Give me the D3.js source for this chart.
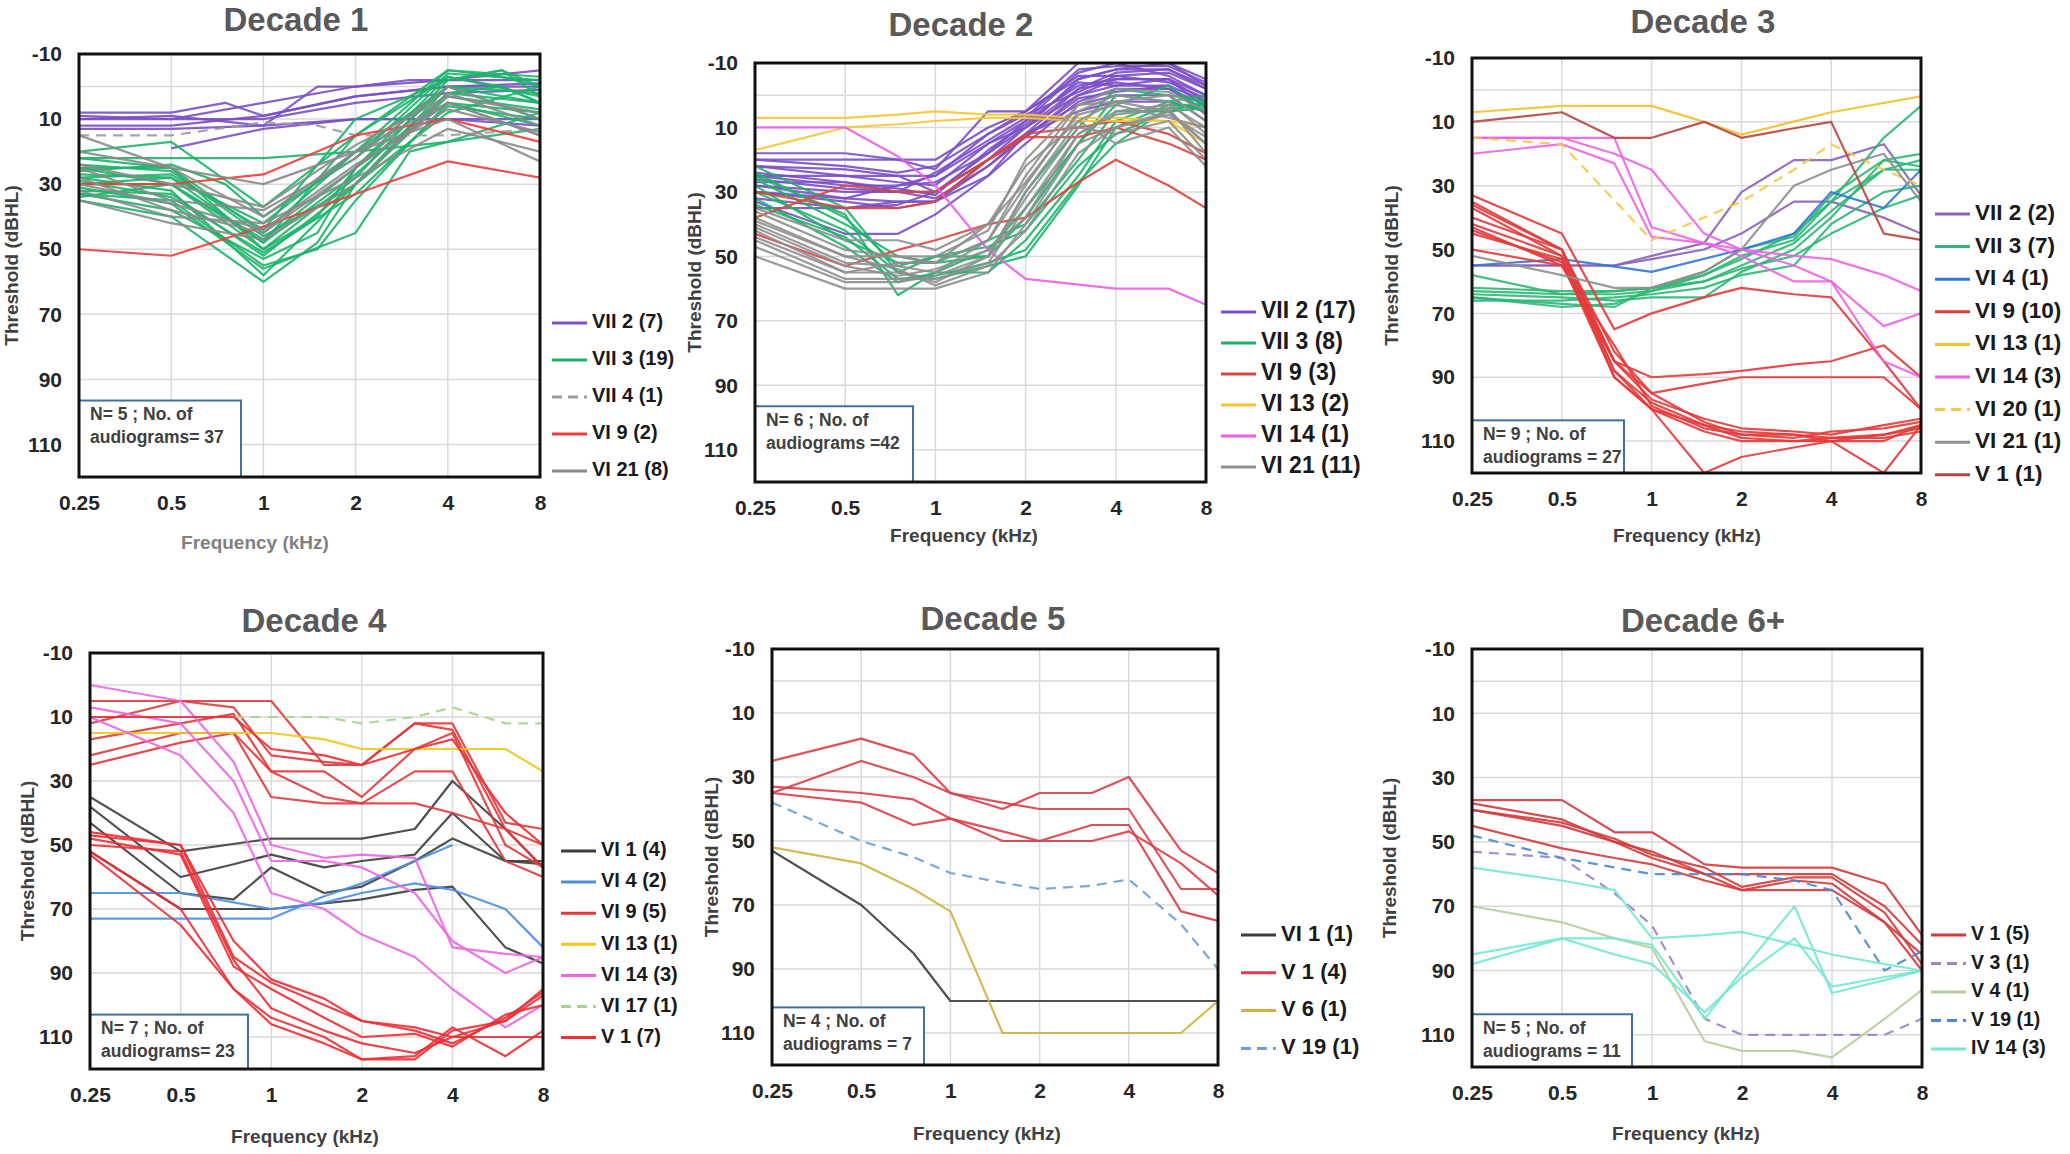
<!DOCTYPE html>
<html><head><meta charset="utf-8">
<script src="https://cdn.jsdelivr.net/npm/d3@7"></script>
<style>
html,body{margin:0;padding:0;background:#fff;}
svg{display:block;}
</style></head><body>
<svg id="chart" width="2070" height="1154"></svg>
<script>
const _ = null;
// frequencies (kHz) at which every audiogram value array is sampled
const FREQS = [0.25, 0.5, 0.75, 1, 1.5, 2, 3, 4, 6, 8];
const X_TICKS = [0.25, 0.5, 1, 2, 4, 8];
const X_TICK_LABELS = ["0.25", "0.5", "1", "2", "4", "8"];
const Y_TICKS = [-10, 10, 30, 50, 70, 90, 110];
const TITLES = ["Decade 1", "Decade 2", "Decade 3", "Decade 4", "Decade 5", "Decade 6+"];
const NOTES = [
  ["N= 5 ; No. of", "audiograms= 37"],
  ["N= 6 ; No. of", "audiograms =42"],
  ["N= 9 ; No. of", "audiograms = 27"],
  ["N= 7 ; No. of", "audiograms= 23"],
  ["N= 4 ; No. of", "audiograms = 7"],
  ["N= 5 ; No. of", "audiograms = 11"]
];

// ---------- Decade 1 ----------
const D1_LABELS = ["VII 2 (7)", "VII 3 (19)", "VII 4 (1)", "VI 9 (2)", "VI 21 (8)"];
const D1_VII2 = [
  [8, 8, 5, 9, _, 3, _, 0, _, -1],
  [10, 10, _, 5, _, 0, _, -2, _, -2],
  [10, 9, _, 12, 0, 0, -2, -2, _, -5],
  [12, 12, _, 9, _, 3, _, 0, _, 0],
  [13, 13, _, 12, _, 10, _, 10, _, 10],
  [_, 19, _, 13, _, 10, _, 10, _, 12],
  [9, 10, _, 10, _, 5, _, 2, _, 1]
];
const D1_VII3 = [
  [22, 22, _, 22, _, 20, _, 17, _, 8],
  [20, 17, _, 37, _, 15, _, -5, -3, 0],
  [25, 25, _, 45, _, 20, _, -5, _, -3],
  [27, 28, _, 48, _, 15, _, -3, 0, 5],
  [30, 30, _, 50, 40, 25, _, 0, _, 2],
  [32, 33, _, 52, _, 30, _, 2, 0, 5],
  [33, 35, _, 55, 50, 35, _, 5, _, 8],
  [35, 40, _, 60, 48, 30, _, 0, _, 10],
  [28, 27, _, 44, _, 10, _, -2, -5, 0],
  [25, 30, _, 47, _, 25, _, -3, _, 3],
  [30, 28, _, 42, _, 20, _, 0, _, 5],
  [24, 26, _, 46, _, 30, _, 3, _, 7],
  [33, 38, _, 53, 45, 25, _, 5, _, 12],
  [28, 32, _, 58, _, 30, _, 8, _, 0],
  [26, 24, 30, 40, _, 22, _, -4, _, -2],
  [31, 36, _, 56, _, 45, 20, 17, _, 13],
  [22, 25, _, 50, _, 28, _, -2, -5, 3],
  [29, 34, _, 51, _, 33, _, 6, _, 10],
  [34, 30, _, 48, _, 27, _, 2, _, 5]
];
const D1_VII4 = [
  [15, 15, _, 11, 12, 15, _, 15, _, 13]
];
const D1_VI9 = [
  [30, 30, _, 27, _, 15, 12, 10, _, 17],
  [50, 52, _, 43, _, 33, _, 23, _, 28]
];
const D1_VI21 = [
  [15, 25, _, 40, _, 20, _, 5, _, 15],
  [20, 25, _, 30, _, 20, _, 10, _, 23],
  [25, 35, _, 38, _, 22, _, 0, _, 10],
  [28, 38, _, 45, _, 25, _, 5, _, 15],
  [32, 40, _, 42, _, 28, _, 13, _, 20],
  [24, 30, _, 37, _, 18, _, 3, _, 8],
  [30, 36, _, 44, _, 24, _, 7, _, 14],
  [35, 42, _, 47, _, 30, _, 2, _, 12]
];

// ---------- Decade 2 ----------
const D2_LABELS = ["VII 2 (17)", "VII 3 (8)", "VI 9 (3)", "VI 13 (2)", "VI 14 (1)", "VI 21 (11)"];
const D2_VII2 = [
  [18, 18, 20, 20, 10, 5, -10, -10, -10, -5],
  [20, 20, 20, 23, 5, 5, -5, -8, -8, -3],
  [22, 23, 25, 25, 15, 8, -3, -5, -5, 0],
  [25, 25, 27, 28, 15, 10, 0, -3, -3, 2],
  [27, 27, 30, 30, 20, 12, -2, -7, -8, -2],
  [28, 30, 30, 32, 22, 13, 0, -5, -5, 4],
  [30, 32, 33, 33, 25, 15, 2, -2, -2, 5],
  [32, 35, 34, 30, 20, 10, -5, -8, -10, -3],
  [25, 28, 28, 27, 18, 8, -7, -10, -6, 0],
  [22, 25, 25, 30, 18, 10, -2, -4, -2, 3],
  [30, 33, 35, 33, 22, 12, 3, 0, 0, 8],
  [33, 43, 43, 37, 25, 12, 5, 2, 2, 5],
  [28, 32, 28, 25, 12, 5, -6, -6, -7, -2],
  [24, 27, 29, 31, 17, 9, -4, -3, -5, 2],
  [26, 29, 30, 24, 14, 7, -8, -9, -9, -4],
  [20, 22, 24, 22, 12, 6, -1, -6, -4, 1],
  [35, 35, 33, 33, 20, 13, 1, -1, -3, 6]
];
const D2_VII3 = [
  [22, 35, 55, 50, 50, 30, 10, -2, 0, 2],
  [25, 37, 62, 55, 48, 35, 15, 0, 2, 5],
  [28, 45, 52, 52, 45, 40, 20, 5, 5, 4],
  [30, 42, 55, 57, 53, 50, 28, 10, 3, 3],
  [32, 47, 58, 55, 55, 45, 25, 8, 2, 0],
  [26, 40, 50, 52, 50, 38, 15, 3, -3, 5],
  [24, 38, 53, 50, 47, 42, 22, 12, 5, 2],
  [34, 44, 57, 56, 52, 48, 27, 15, 4, 3]
];
const D2_VI9 = [
  [30, 35, 35, 33, 20, 13, 13, 10, 15, 20],
  [43, 53, 48, 45, 40, 38, 27, 20, 28, 35],
  [38, 28, 30, 30, 20, 12, 10, 8, 12, 18]
];
const D2_VI13 = [
  [7, 7, 6, 5, 6, 6, 7, 7, 8, 10],
  [17, 10, 9, 8, 7, 7, 8, 8, 8, 15]
];
const D2_VI14 = [
  [10, 10, 19, 28, 48, 57, _, 60, 60, 65]
];
const D2_VI21 = [
  [50, 60, 60, 60, 55, 40, 15, 10, 5, 15],
  [45, 57, 57, 57, 52, 35, 12, 5, 3, 10],
  [42, 55, 55, 58, 50, 30, 8, 2, 0, 8],
  [40, 52, 53, 55, 45, 28, 5, 0, 2, 12],
  [38, 50, 50, 52, 45, 25, 3, -2, -1, 5],
  [36, 48, 50, 50, 42, 20, 3, 2, 5, 15],
  [47, 58, 58, 56, 50, 32, 10, 12, 8, 20],
  [44, 55, 52, 52, 40, 22, 8, 15, 10, 22],
  [41, 53, 56, 54, 48, 38, 12, 6, 4, 18],
  [39, 50, 54, 59, 53, 42, 18, 10, 6, 13],
  [35, 45, 45, 48, 40, 27, 6, 3, 7, 10]
];

// ---------- Decade 3 ----------
const D3_LABELS = ["VII 2 (2)", "VII 3 (7)", "VI 4 (1)", "VI 9 (10)", "VI 13 (1)", "VI 14 (3)", "VI 20 (1)", "VI 21 (1)", "V 1 (1)"];
const D3_VII2 = [
  [55, 55, 55, 53, 50, 45, 35, 35, 40, 45],
  [55, 55, 55, 52, 48, 32, 22, 22, 17, 33]
];
const D3_VII3 = [
  [58, 64, 64, 63, 58, 53, 45, 35, 15, 5],
  [62, 63, 63, 62, 60, 55, 48, 38, 25, 22],
  [64, 65, 66, 65, 65, 57, 50, 40, 22, 20],
  [65, 67, 68, 62, 58, 52, 47, 35, 25, 25],
  [66, 66, 65, 64, 62, 58, 55, 42, 32, 30],
  [63, 64, 63, 62, 57, 50, 46, 33, 22, 24],
  [65, 68, 67, 63, 60, 56, 52, 45, 37, 33]
];
const D3_VI4 = [
  [55, 53, _, 57, _, 50, 45, 32, 37, 25]
];
const D3_VI9 = [
  [33, 45, 75, 70, 65, 62, 64, 65, 85, 100],
  [35, 50, 85, 90, 89, 88, 86, 85, 80, 90],
  [37, 52, 85, 95, 92, 90, 90, 90, 90, 100],
  [40, 50, 88, 98, 105, 107, 108, 109, 108, 105],
  [42, 52, 90, 100, 120, 115, 112, 110, 108, 106],
  [43, 55, 85, 97, 103, 106, 107, 108, 105, 103],
  [45, 53, 88, 100, 107, 110, 110, 110, 110, 105],
  [50, 55, 80, 99, 106, 108, 108, 110, 120, 105],
  [36, 50, 82, 95, 104, 108, 109, 107, 106, 104],
  [44, 54, 90, 100, 105, 109, 110, 109, 109, 107]
];
const D3_VI13 = [
  [7, 5, _, 5, 10, 14, _, 7, _, 2]
];
const D3_VI14 = [
  [15, 15, 15, 43, 48, 52, 60, 60, 74, 70],
  [15, 15, 20, 25, 45, 50, 52, 53, 58, 63],
  [20, 17, 23, 46, 48, 50, 55, 60, 85, 90]
];
const D3_VI20 = [
  [15, 17, _, 47, _, 35, 25, 17, 25, 30]
];
const D3_VI21 = [
  [52, 58, 62, 62, 57, 50, 30, 25, 20, 35]
];
const D3_V1 = [
  [10, 7, 15, 15, 10, 15, 12, 10, 45, 47]
];

// ---------- Decade 4 ----------
const D4_LABELS = ["VI 1 (4)", "VI 4 (2)", "VI 9 (5)", "VI 13 (1)", "VI 14 (3)", "VI 17 (1)", "V 1 (7)"];
const D4_VI1 = [
  [35, 52, _, 48, _, 48, 45, 30, 45, 57],
  [38, 60, 56, 53, 57, 55, 53, 40, 55, 56],
  [43, 65, 67, 57, 65, 63, 55, 48, 55, 55],
  [52, 70, _, 70, _, 67, 64, 63, 82, 87]
];
const D4_VI4 = [
  [65, 65, _, 70, 68, 65, 62, 64, 70, 82],
  [73, 73, _, 73, 66, 62, 55, 50, _, _]
];
const D4_VI9 = [
  [5, 5, 5, 5, 25, 25, 12, 12, 43, 45],
  [12, 5, 7, 22, 24, 25, 12, 14, 45, 50],
  [17, 12, 9, 27, 27, 35, 20, 15, 50, 57],
  [22, 15, 15, 27, 35, 37, 27, 27, 55, 60],
  [25, 18, 15, 35, 37, 37, 37, 40, 45, 57]
];
const D4_VI13 = [
  [15, 15, _, 15, 17, 20, _, 20, 20, 27]
];
const D4_VI14 = [
  [0, 5, 24, 50, 54, 53, 54, 82, 84, 85],
  [7, 12, 30, 55, 55, 57, 65, 80, 90, 85],
  [10, 22, 40, 65, 70, 78, 85, 95, 107, 100]
];
const D4_VI17 = [
  [_, _, 10, 10, 10, 12, 10, 7, 12, 12]
];
const D4_V1 = [
  [10, 10, 10, 20, 22, 25, 20, 17, 40, 50],
  [46, 50, 80, 92, 98, 105, 107, 110, 105, 95],
  [47, 50, 85, 93, 100, 105, 108, 112, 104, 96],
  [48, 53, 88, 95, 104, 110, 109, 113, 103, 100],
  [50, 52, 86, 101, 108, 112, 115, 110, 110, 110],
  [52, 70, 95, 104, 110, 117, 117, 108, 105, 97],
  [53, 75, 95, 106, 112, 117, 116, 107, 116, 108]
];

// ---------- Decade 5 ----------
const D5_LABELS = ["VI 1 (1)", "V 1 (4)", "V 6 (1)", "V 19 (1)"];
const D5_VI1 = [
  [53, 70, 85, 100, 100, 100, 100, 100, 100, 100]
];
const D5_V1 = [
  [25, 18, 23, 35, 40, 35, 35, 30, 53, 60],
  [35, 25, 30, 35, 38, 40, 40, 40, 65, 65],
  [33, 35, 37, 43, 50, 50, 45, 45, 72, 75],
  [35, 38, 45, 43, 47, 50, 50, 47, 57, 67]
];
const D5_V6 = [
  [52, 57, 65, 72, 110, 110, 110, 110, 110, 100]
];
const D5_V19 = [
  [38, 50, 55, 60, 63, 65, 64, 62, 76, 90]
];

// ---------- Decade 6+ ----------
const D6_LABELS = ["V 1 (5)", "V 3 (1)", "V 4 (1)", "V 19 (1)", "IV 14 (3)"];
const D6_V1 = [
  [37, 37, 47, 47, 57, 58, 58, 58, 63, 79],
  [38, 43, 50, 55, 60, 65, 65, 65, 75, 90],
  [40, 45, 50, 53, 60, 60, 60, 60, 70, 82],
  [45, 52, 55, 57, 62, 65, 62, 63, 75, 85],
  [40, 44, 49, 54, 58, 64, 61, 61, 72, 88]
];
const D6_V3 = [
  [53, 55, 66, 76, 105, 110, 110, 110, 110, 105]
];
const D6_V4 = [
  [70, 75, 80, 83, 112, 115, 115, 117, 105, 96]
];
const D6_V19 = [
  [48, 55, _, 60, _, 60, 62, 65, 90, 84]
];
const D6_IV14 = [
  [58, 62, 65, 80, 79, 78, 82, 85, 88, 90],
  [85, 80, 80, 82, 105, 90, 70, 97, 93, 90],
  [88, 80, 85, 88, 103, 92, 80, 95, 92, 90]
];

// ---------- styles (colour / dash per legend entry) ----------
const D1_STYLE = [{c:"#7b4fc7"}, {c:"#1db46a"}, {c:"#9c9c9c", dash:true}, {c:"#f23b3b"}, {c:"#8a8a8a"}];
const D2_STYLE = [{c:"#7b4fc7"}, {c:"#1db46a"}, {c:"#d9463c"}, {c:"#f7c531"}, {c:"#ec5fe6"}, {c:"#8f8f8f"}];
const D3_STYLE = [{c:"#8a62b8"}, {c:"#2cb873"}, {c:"#2f78d8"}, {c:"#e53a3a"}, {c:"#f2c12e"}, {c:"#ee63e6"}, {c:"#f5c842", dash:true}, {c:"#8f8f8f"}, {c:"#b8443f"}];
const D4_STYLE = [{c:"#3d3d3d"}, {c:"#4a8fe0"}, {c:"#e23a3a"}, {c:"#f5c518"}, {c:"#ec66e2"}, {c:"#a9d48a", dash:true}, {c:"#ee2f34"}];
const D5_STYLE = [{c:"#3d3d3d"}, {c:"#dc3d46"}, {c:"#d4b040"}, {c:"#6a9fd8", dash:true}];
const D6_STYLE = [{c:"#d43a3a"}, {c:"#9d82c4", dash:true}, {c:"#b8cc9a"}, {c:"#4a88d4", dash:true}, {c:"#74e8d2"}];

// ---------- layout (pixels) ----------
const LAYOUT = [
  {l:79,  r:540,  t:54,  b:477,  tx:296,  ty:31,  xtx:255,  xty:544,  ytx:13,   lx:552,  ly:323, ldy:37,   lfs:20,   nw:162, nt:96.5, xtc:"#808080"},
  {l:755, r:1206, t:63,  b:482,  tx:961,  ty:36,  xtx:964,  xty:537,  ytx:696,  lx:1221, ly:312, ldy:31,   lfs:23,   nw:158, nt:96.5, xtc:"#404040"},
  {l:1472,r:1921, t:58,  b:473,  tx:1703, ty:33,  xtx:1687, xty:537,  ytx:1393, lx:1935, ly:214, ldy:32.6, lfs:22.5, nw:152, nt:103.5, xtc:"#404040"},
  {l:90,  r:543,  t:653, b:1069, tx:314,  ty:632, xtx:305,  xty:1138, ytx:29,   lx:561,  ly:851, ldy:31.1, lfs:20,   nw:158, nt:103, xtc:"#404040"},
  {l:772, r:1218, t:649, b:1065, tx:993,  ty:630, xtx:987,  xty:1135, ytx:713,  lx:1241, ly:935, ldy:37.8, lfs:22,   nw:152, nt:102, xtc:"#404040"},
  {l:1472,r:1922, t:649, b:1067, tx:1703, ty:632, xtx:1686, xty:1135, ytx:1391, lx:1931, ly:935, ldy:28.5, lfs:19.5, nw:160, nt:103.6, xtc:"#404040"}
];

const PANELS = [
  {labels:D1_LABELS, series:[D1_VII2, D1_VII3, D1_VII4, D1_VI9, D1_VI21], style:D1_STYLE},
  {labels:D2_LABELS, series:[D2_VII2, D2_VII3, D2_VI9, D2_VI13, D2_VI14, D2_VI21], style:D2_STYLE},
  {labels:D3_LABELS, series:[D3_VII2, D3_VII3, D3_VI4, D3_VI9, D3_VI13, D3_VI14, D3_VI20, D3_VI21, D3_V1], style:D3_STYLE},
  {labels:D4_LABELS, series:[D4_VI1, D4_VI4, D4_VI9, D4_VI13, D4_VI14, D4_VI17, D4_V1], style:D4_STYLE},
  {labels:D5_LABELS, series:[D5_VI1, D5_V1, D5_V6, D5_V19], style:D5_STYLE},
  {labels:D6_LABELS, series:[D6_V1, D6_V3, D6_V4, D6_V19, D6_IV14], style:D6_STYLE}
];

const FONT = '"Liberation Sans", Arial, sans-serif';
const svg = d3.select("#chart").attr("font-family", FONT).attr("font-weight", "bold");
svg.append("rect").attr("width", 2070).attr("height", 1154).attr("fill", "#fff");

PANELS.forEach((p, pi) => {
  const L = LAYOUT[pi];
  const x = d3.scaleLog().base(2).domain([0.25, 8]).range([L.l, L.r]);
  const y = d3.scaleLinear().domain([-10, 120]).range([L.t, L.b]);
  const g = svg.append("g");

  const clipId = "clip" + pi;
  g.append("clipPath").attr("id", clipId).append("rect")
    .attr("x", L.l).attr("y", L.t).attr("width", L.r - L.l).attr("height", L.b - L.t);

  // gridlines
  g.append("g").selectAll("line").data(Y_TICKS.concat([0])).join("line")
    .attr("x1", L.l).attr("x2", L.r).attr("y1", d => y(d)).attr("y2", d => y(d))
    .attr("stroke", "#d9d9d9").attr("stroke-width", 1.5);
  g.append("g").selectAll("line").data(X_TICKS.slice(1, -1)).join("line")
    .attr("x1", d => x(d)).attr("x2", d => x(d)).attr("y1", L.t).attr("y2", L.b)
    .attr("stroke", "#d5dbe4").attr("stroke-width", 1.5);

  // audiogram lines
  const line = d3.line().x(d => x(d.f)).y(d => y(d.v));
  const lg = g.append("g").attr("clip-path", `url(#${clipId})`);
  p.series.forEach((grp, gi) => {
    const st = p.style[gi];
    grp.forEach(vals => {
      const pts = FREQS.map((f, i) => ({f, v: vals[i]})).filter(d => d.v !== null);
      lg.append("path").attr("d", line(pts)).attr("fill", "none")
        .attr("stroke", st.c).attr("stroke-width", 2.2).attr("stroke-opacity", 0.9)
        .attr("stroke-linejoin", "round")
        .attr("stroke-dasharray", st.dash ? "10,7" : null);
    });
  });

  // note box
  const ny = y(L.nt);
  g.append("rect").attr("x", L.l).attr("y", ny).attr("width", L.nw).attr("height", L.b - ny)
    .attr("fill", "#fff").attr("stroke", "#41719c").attr("stroke-width", 2);
  const note = NOTES[pi];
  g.append("text").attr("x", L.l + 11).attr("y", ny + 15).attr("dominant-baseline", "middle")
    .attr("font-size", 17.5).attr("fill", "#404040").text(note[0]);
  g.append("text").attr("x", L.l + 11).attr("y", ny + 38).attr("dominant-baseline", "middle")
    .attr("font-size", 17.5).attr("fill", "#404040").text(note[1]);

  // plot border
  g.append("rect").attr("x", L.l).attr("y", L.t).attr("width", L.r - L.l).attr("height", L.b - L.t)
    .attr("fill", "none").attr("stroke", "#111").attr("stroke-width", 3);

  // axes
  const ya = g.append("g").attr("transform", `translate(${L.l},0)`)
    .call(d3.axisLeft(y).tickValues(Y_TICKS).tickSize(0).tickPadding(17)
      .tickFormat(d => String(d)));
  ya.select(".domain").remove();
  ya.attr("font-family", FONT).attr("font-size", 21).attr("font-weight", "bold");
  ya.selectAll("text").attr("fill", "#262626");

  const xa = g.append("g").attr("transform", `translate(0,${L.b})`)
    .call(d3.axisBottom(x).tickValues(X_TICKS).tickSize(0).tickPadding(18)
      .tickFormat((d, i) => X_TICK_LABELS[i]));
  xa.select(".domain").remove();
  xa.attr("font-family", FONT).attr("font-size", 21).attr("font-weight", "bold");
  xa.selectAll("text").attr("fill", "#262626");

  // titles
  g.append("text").attr("x", L.tx).attr("y", L.ty).attr("text-anchor", "middle")
    .attr("font-size", 33).attr("fill", "#595959")
    .text(TITLES[pi]);
  g.append("text").attr("x", L.xtx).attr("y", L.xty).attr("text-anchor", "middle")
    .attr("dominant-baseline", "middle").attr("font-size", 19).attr("fill", L.xtc)
    .text("Frequency (kHz)");
  g.append("text").attr("transform", `translate(${L.ytx},${(L.t + L.b) / 2}) rotate(-90)`)
    .attr("text-anchor", "middle").attr("dominant-baseline", "middle")
    .attr("font-size", 19).attr("fill", "#404040").text("Threshold (dBHL)");

  // legend
  const leg = g.append("g");
  p.labels.forEach((lab, i) => {
    const st = p.style[i];
    const yy = L.ly + i * L.ldy;
    leg.append("line").attr("x1", L.lx).attr("x2", L.lx + 35).attr("y1", yy).attr("y2", yy)
      .attr("stroke", st.c).attr("stroke-width", 3)
      .attr("stroke-dasharray", st.dash ? "10,6" : null);
    leg.append("text").attr("x", L.lx + 40).attr("y", yy).attr("dominant-baseline", "middle")
      .attr("font-size", L.lfs).attr("fill", "#1a1a1a").text(lab);
  });
});
</script></body></html>
